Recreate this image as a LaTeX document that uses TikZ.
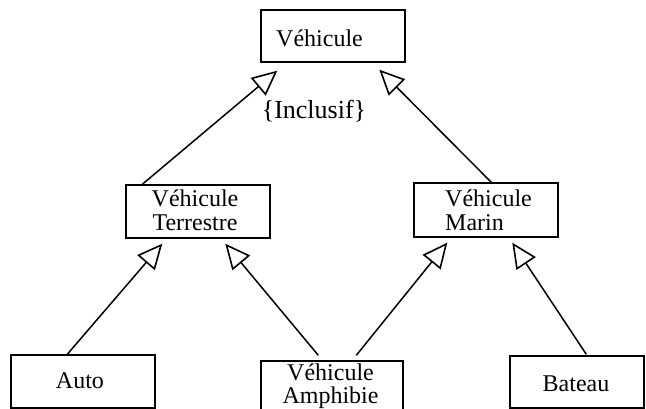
\documentclass[tikz,border=0pt]{standalone}
\usepackage{fontspec}
\setmainfont{Liberation Serif}
\usetikzlibrary{arrows.meta}
\begin{document}
\begin{tikzpicture}[x=1pt,y=-1pt,
  classbox/.style={draw,line width=1.4pt,minimum width=144pt,inner sep=0pt,rectangle},
  txt/.style={inner sep=0pt,font=\fontsize{24}{24}\selectfont},
  gen/.style={line width=1.5pt,-{Triangle[open,length=25pt,width=23pt,line width=1.6pt]}}]
\useasboundingbox (0,0) rectangle (646,409);
\clip (0,0) rectangle (646,409);
% boxes
\node[classbox,minimum height=52pt] (veh) at (333,36) {};
\node[classbox,minimum height=53pt] (ter) at (198,211.5) {};
\node[classbox,minimum height=54pt] (mar) at (486,210) {};
\node[classbox,minimum height=53pt] (auto) at (83,381.5) {};
\node[classbox,minimum width=142pt,minimum height=54pt] (amph) at (332,388) {};
\node[classbox,minimum width=134pt,minimum height=52pt] (bat) at (577,382) {};
% texts
\node[txt,anchor=base west] (vehT) at (276,47) {Véhicule};
\node[inner sep=0pt,font=\fontsize{26}{28}\selectfont,anchor=base] (incl) at (314,119) {\{Inclusif\}};
\node[txt,anchor=base] (terT1) at (195,207) {Véhicule};
\node[txt,anchor=base] (terT2) at (195,230) {Terrestre};
\node[txt,anchor=base west] (marT1) at (445,207) {Véhicule};
\node[txt,anchor=base west] (marT2) at (445,230) {Marin};
\node[txt,anchor=base] (autoT) at (80,388) {Auto};
\node[txt,anchor=base] (amphT1) at (330.5,380) {Véhicule};
\node[txt,anchor=base] (amphT2) at (330.5,403) {Amphibie};
\node[txt,anchor=base] (batT) at (576,391) {Bateau};
% generalisations
\draw[gen] ([xshift=17pt]ter.north west) -- ([xshift=17pt,yshift=-8pt]veh.south west);
\draw[gen] ([xshift=78pt]mar.north west) -- ([xshift=119pt,yshift=-7pt]veh.south west);
\draw[gen] ([xshift=57pt]auto.north west) -- ([xshift=37pt,yshift=-5pt]ter.south west);
\draw[gen] ([xshift=58pt,yshift=5pt]amph.north west) -- ([xshift=100pt,yshift=-5pt]ter.south west);
\draw[gen] ([xshift=96pt,yshift=5pt]amph.north west) -- ([xshift=34pt,yshift=-5pt]mar.south west);
\draw[gen] ([xshift=77pt,yshift=1pt]bat.north west) -- ([xshift=99pt,yshift=-5pt]mar.south west);
\end{tikzpicture}
\end{document}
